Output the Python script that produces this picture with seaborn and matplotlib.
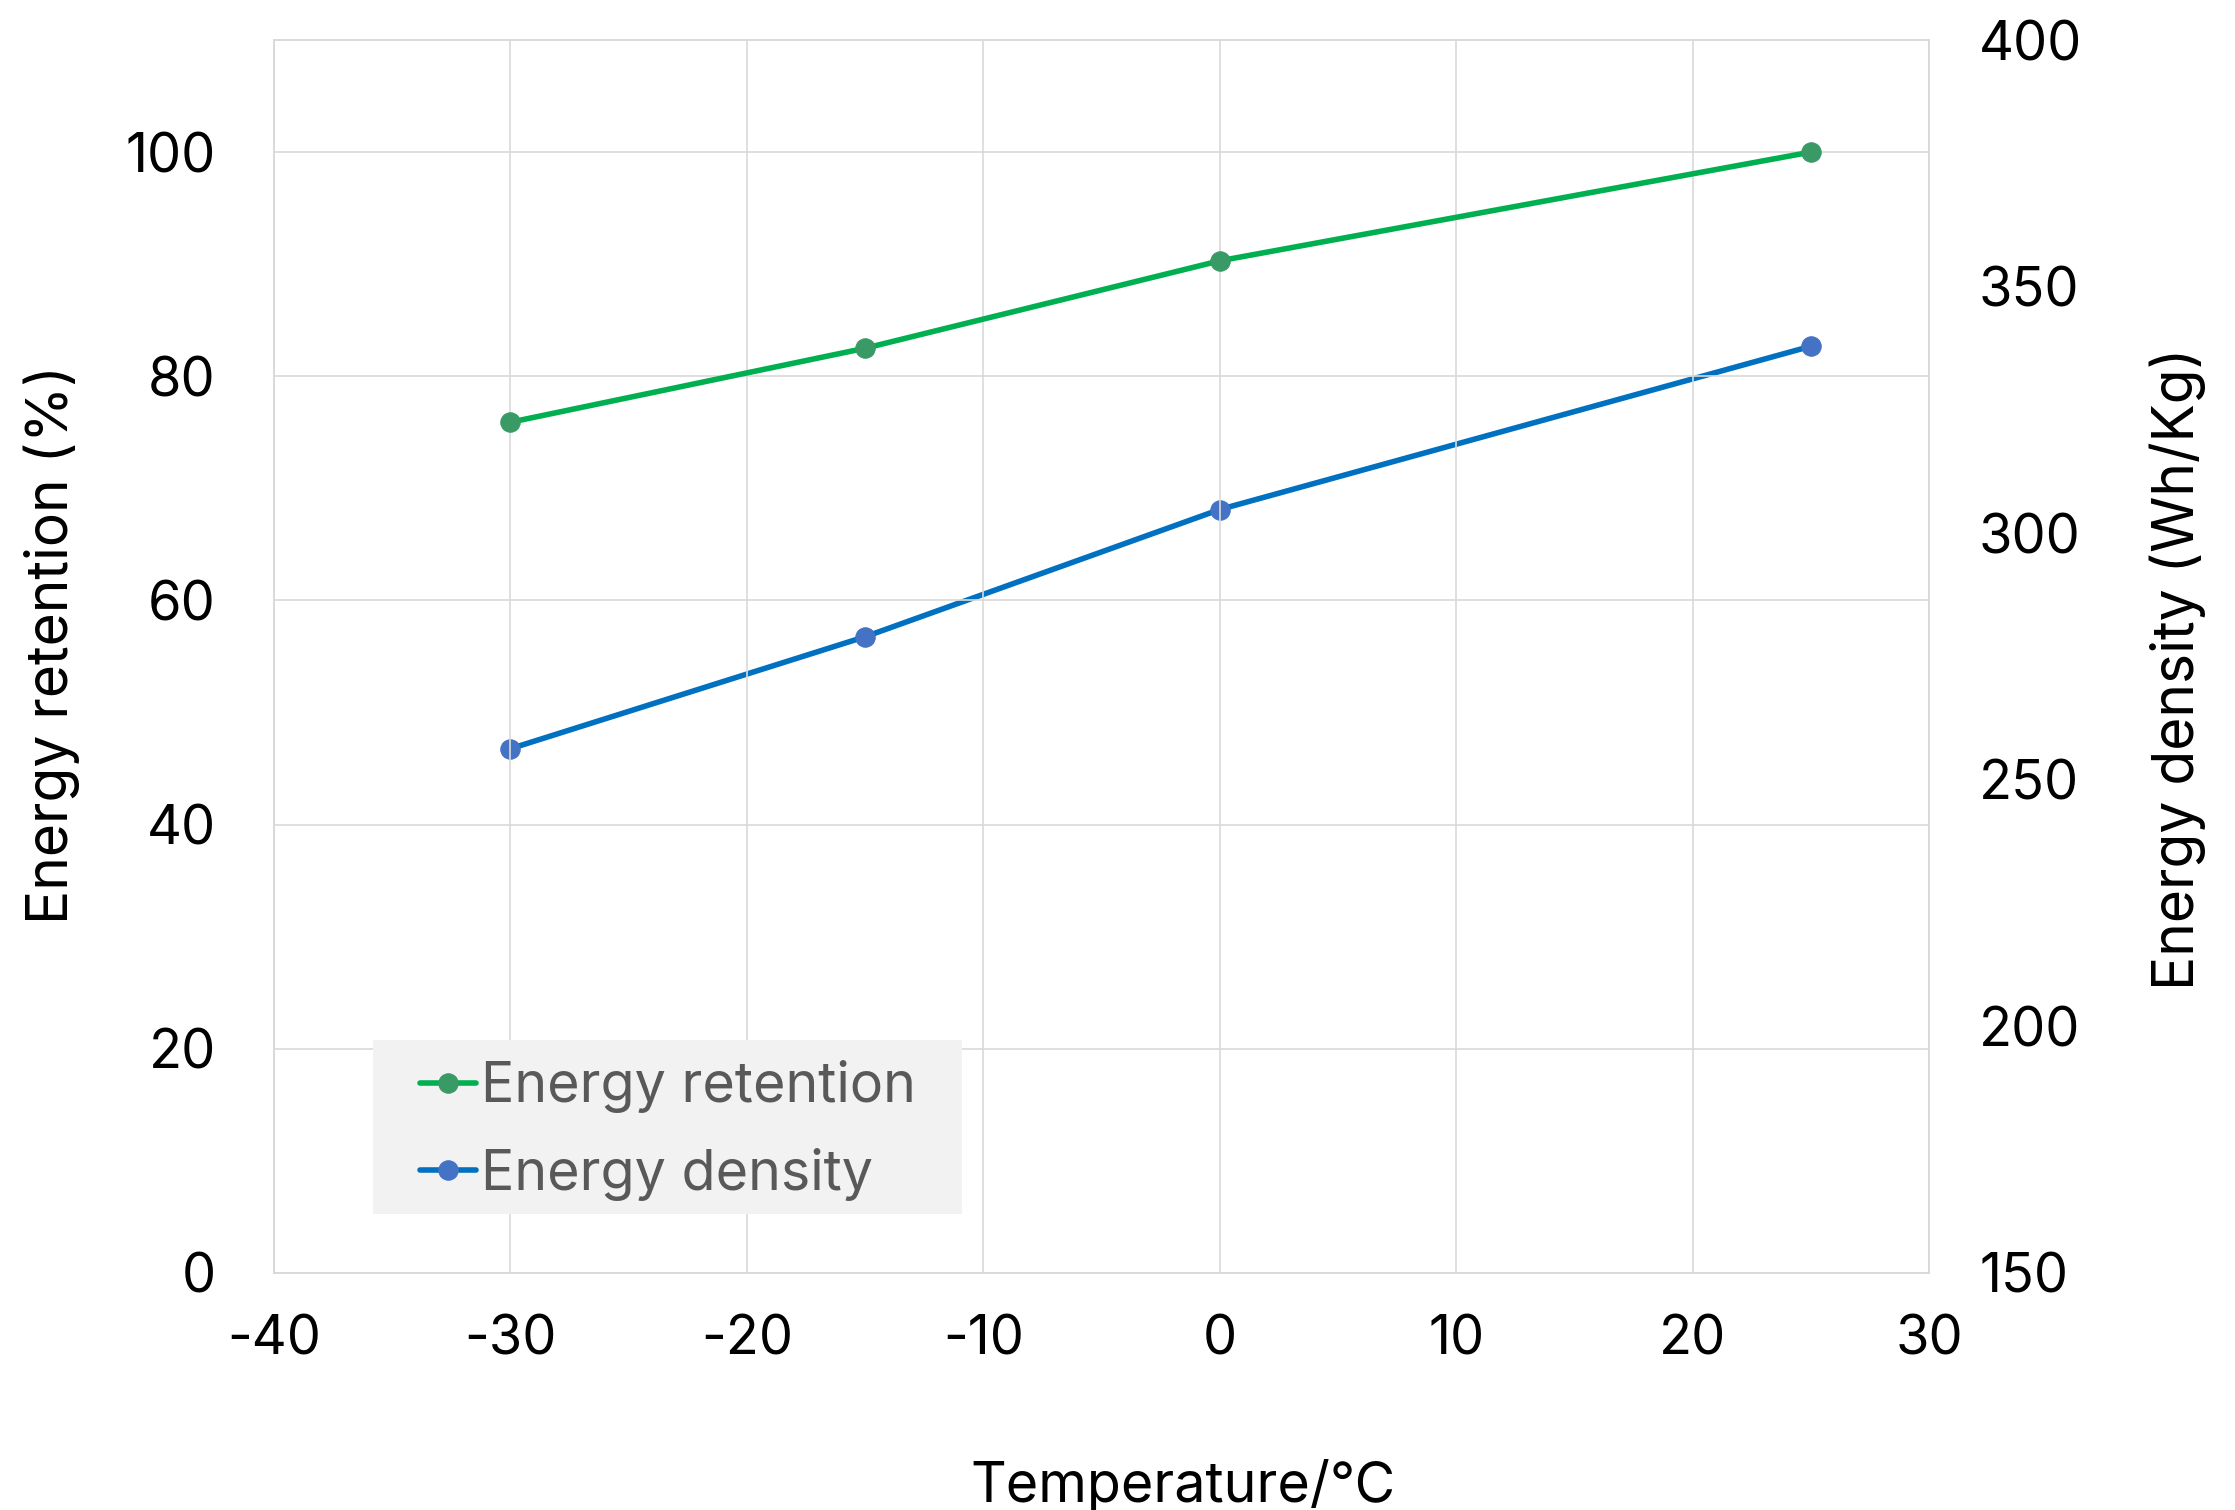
import matplotlib
matplotlib.use("Agg")
import matplotlib.pyplot as plt
from matplotlib.patches import Rectangle
import seaborn as sns
import pandas as pd

# Temperature sweep and measured performance
temperature = [-30, -15, 0, 25]
energy_retention = [75.9, 82.5, 90.3, 100.0]      # %
energy_density = [256.3, 279.0, 304.8, 337.9]     # Wh/Kg

x_ticks = [-40, -30, -20, -10, 0, 10, 20, 30]
left_ticks = [0, 20, 40, 60, 80, 100]
right_ticks = [150, 200, 250, 300, 350, 400]

df = pd.DataFrame({
    "Temperature": temperature,
    "Energy retention": energy_retention,
    "Energy density": energy_density,
})

sns.set_theme(style="white")
plt.rcParams["font.family"] = ["Inter", "DejaVu Sans"]
plt.rcParams["axes.unicode_minus"] = False

GRID = "#D9D9D9"
GREEN_LINE, GREEN_MARK = "#00B050", "#3A9A66"
BLUE_LINE, BLUE_MARK = "#0070C0", "#4472C4"

fig = plt.figure(figsize=(22.35, 15.1), dpi=100)
ax = fig.add_axes([0.1226, 0.1570, 0.7405, 0.8165])
ax2 = ax.twinx()

sns.lineplot(data=df, x="Temperature", y="Energy retention", ax=ax,
             color=GREEN_LINE, linewidth=4.0, marker="o", markersize=14,
             markerfacecolor=GREEN_MARK, markeredgecolor=GREEN_MARK,
             label="Energy retention", legend=False)
sns.lineplot(data=df, x="Temperature", y="Energy density", ax=ax2,
             color=BLUE_LINE, linewidth=4.0, marker="o", markersize=14,
             markerfacecolor=BLUE_MARK, markeredgecolor=BLUE_MARK,
             label="Energy density", legend=False)

ax.set_xlim(-40, 30)
ax.set_ylim(0, 110)
ax2.set_ylim(150, 400)
ax.set_xticks(x_ticks)
ax.set_yticks(left_ticks)
ax2.set_yticks(right_ticks)

ax.grid(True, color=GRID, linewidth=1.2)
ax2.grid(False)
for a in (ax, ax2):
    for s in a.spines.values():
        s.set_color(GRID)
        s.set_linewidth(1.2)
    a.tick_params(length=0, labelsize=39, colors="black")
ax.tick_params(axis="y", pad=42)
ax.tick_params(axis="x", pad=30)
ax2.tick_params(axis="y", pad=36)

ax.set_xlabel("Temperature/℃", fontsize=40, color="black")
ax.set_ylabel("Energy retention (%)", fontsize=41, color="black")
ax2.set_ylabel("Energy density (Wh/Kg)", fontsize=41, color="black")
ax.xaxis.set_label_coords(0.549, -0.151)
ax.yaxis.set_label_coords(-0.117, 0.51)
ax2.yaxis.set_label_coords(1.133, 0.49)

# Legend panel: grey background block with frameless legend on top
ax.add_patch(Rectangle((0.0598, 0.0478), 0.356, 0.141, transform=ax.transAxes,
                       facecolor="#F2F2F2", edgecolor="none", zorder=5))
h1, l1 = ax.get_legend_handles_labels()
h2, l2 = ax2.get_legend_handles_labels()
leg = ax.legend(h1 + h2, l1 + l2, loc="center left",
                bbox_to_anchor=(0.0882, 0.1155), borderaxespad=0,
                borderpad=0, fontsize=40, frameon=False,
                handlelength=1.0, handletextpad=0.1, labelspacing=0.62)
for t in leg.get_texts():
    t.set_color("#595959")
leg.set_zorder(10)
ax2.set_zorder(ax.get_zorder() - 1)
ax.patch.set_visible(False)

fig.savefig("out.png", dpi=100)
